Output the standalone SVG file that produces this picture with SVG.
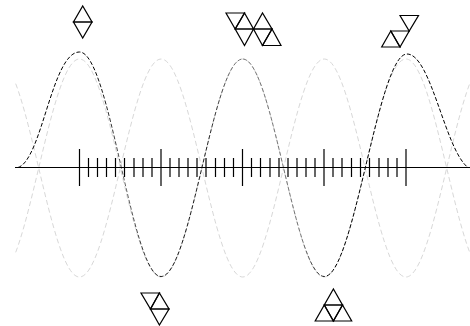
<svg xmlns="http://www.w3.org/2000/svg" width="470" height="326" viewBox="0 0 470 326">
<style>
.t{fill:none;stroke:#000;stroke-width:1.2;stroke-linejoin:miter}
.l{fill:none;stroke:#d8d8d8;stroke-width:1;stroke-dasharray:5 3}
.d{fill:none;stroke:url(#g);stroke-width:1;stroke-dasharray:4 2}
.a{stroke:#000;stroke-width:1.2}
</style>
<defs>
<clipPath id="c"><rect x="15" y="0" width="455" height="326"/></clipPath>
<linearGradient id="g" gradientUnits="userSpaceOnUse" x1="0" y1="0" x2="470" y2="0">
<stop offset="0.2" stop-color="#000"/>
<stop offset="0.27" stop-color="#666"/>
<stop offset="0.33" stop-color="#111"/>
<stop offset="0.44" stop-color="#222"/>
<stop offset="0.5" stop-color="#777"/>
<stop offset="0.64" stop-color="#777"/>
<stop offset="0.7" stop-color="#000"/>
</linearGradient>
</defs>
<g id="connectors">
<g clip-path="url(#c)">
<path class="l" d="M-2.1,277 C27.6,277 49.8,59 79.5,59 S131.4,277 161.1,277 S213,59 242.7,59 S294.6,277 324.3,277 S376.2,59 405.9,59 S457.8,277 487.5,277"/>
<path class="l" d="M-2.1,59 C27.6,59 49.8,277 79.5,277 S131.4,59 161.1,59 S213,277 242.7,277 S294.6,59 324.3,59 S376.2,277 405.9,277 S457.8,59 487.5,59"/>
</g>
<path class="d" d="M18,167.5 C42,160 52,52 79.5,52 C110,52 131.4,276.5 161.1,276.5 S213,59 242.7,59 S294.6,276.5 324.3,276.5 C354,276.5 378,54 407,54 C431,54 445,150 468,167.5"/>
<path class="a" d="M15,167.5H470"/>
<path class="a" d="M79.5,149V186M161,149V186M242.5,149V186M324,149V186M406,149V186"/>
<path class="a" d="M88.5,158V177M97.5,158V177M106.5,158V177M115.5,158V177M124.5,158V177M134,158V177M143,158V177M152,158V177M170,158V177M179,158V177M188,158V177M197,158V177M206,158V177M215.5,158V177M224.5,158V177M233.5,158V177M251.5,158V177M260.5,158V177M270,158V177M279,158V177M288,158V177M297,158V177M306,158V177M315,158V177M333,158V177M342,158V177M351.5,158V177M360.5,158V177M369.5,158V177M379,158V177M388,158V177M397,158V177"/>
</g>
<g id="node1" class="t">
<polygon points="73.5,22 92,22 82.7,6"/>
<polygon points="73.5,22 92,22 82.7,38"/>
</g>
<g id="node2" class="t">
<polygon points="226,13 244.5,13 235.2,29"/>
<polygon points="235.2,29 253.5,29 244.5,13"/>
<polygon points="235.2,29 253.5,29 244.5,45.5"/>
<polygon points="253.5,29 272,29 262.5,13"/>
<polygon points="253.5,29 272,29 262.5,45.5"/>
<polygon points="262.5,45.5 281,45.5 272,29"/>
</g>
<g id="node3" class="t">
<polygon points="400,15.5 418.5,15.5 409.2,31"/>
<polygon points="390.8,31 409.2,31 400,47"/>
<polygon points="390.8,31 381.7,47 400,47"/>
</g>
<g id="node4" class="t">
<polygon points="141,293 159.4,293 150.5,309"/>
<polygon points="150.5,309 169,309 159.4,293"/>
<polygon points="150.5,309 169,309 159.4,325"/>
</g>
<g id="node5" class="t">
<polygon points="324.3,305 342.5,305 333.4,289"/>
<polygon points="315.2,321 333.4,321 324.3,305"/>
<polygon points="324.3,305 342.5,305 333.4,321"/>
<polygon points="333.4,321 351.7,321 342.5,305"/>
</g>
</svg>
